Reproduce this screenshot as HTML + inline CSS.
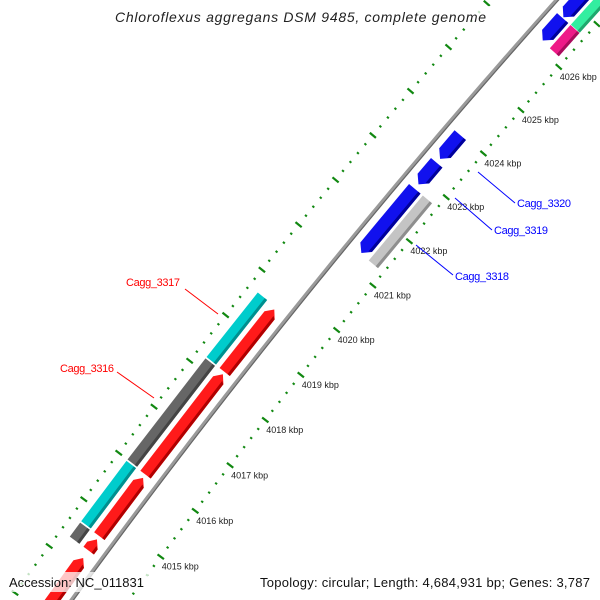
<!DOCTYPE html>
<html><head><meta charset="utf-8"><style>
html,body{margin:0;padding:0;background:#fff;width:600px;height:600px;overflow:hidden;}
svg{display:block;overflow:hidden;}
</style></head><body>
<svg id="map" width="600" height="600" viewBox="0 0 600 600" xmlns="http://www.w3.org/2000/svg" font-family="Liberation Sans, DejaVu Sans, sans-serif">
<rect x="0" y="0" width="600" height="600" fill="#fff"/>
<g id="ticks"></g>
<g id="backbone"></g>
<g id="genes"></g>
<g id="ticklabels"></g>
<g font-size="11">
  <line x1="185" y1="289" x2="218" y2="314" stroke="#f00" stroke-width="1"/>
  <text x="126" y="286" fill="#f00" textLength="54">Cagg_3317</text>
  <line x1="117" y1="372" x2="154" y2="398" stroke="#f00" stroke-width="1"/>
  <text x="60" y="372" fill="#f00" textLength="54">Cagg_3316</text>
  <line x1="416" y1="245" x2="453" y2="275" stroke="#00f" stroke-width="1"/>
  <text x="455" y="280" fill="#00f" textLength="54">Cagg_3318</text>
  <line x1="455" y1="198" x2="492" y2="230" stroke="#00f" stroke-width="1"/>
  <text x="494" y="234" fill="#00f" textLength="54">Cagg_3319</text>
  <line x1="478" y1="172" x2="515" y2="203" stroke="#00f" stroke-width="1"/>
  <text x="517" y="207" fill="#00f" textLength="54">Cagg_3320</text>
</g>
<g>
  <rect x="112" y="6" width="378" height="20" fill="#fff" fill-opacity="0.75"/>
  <text x="115" y="22" font-size="14" font-style="italic" fill="#222" textLength="371">Chloroflexus aggregans DSM 9485, complete genome</text>
</g>
<g>
  <rect x="6" y="572" width="142" height="20" fill="#fff" fill-opacity="0.75"/>
  <text x="9" y="587" font-size="13" fill="#111" textLength="135">Accession: NC_011831</text>
  <rect x="257" y="572" width="337" height="20" fill="#fff" fill-opacity="0.75"/>
  <text x="260" y="587" font-size="13" fill="#111" textLength="330">Topology: circular; Length: 4,684,931 bp; Genes: 3,787</text>
</g>
</svg>
<script>
// ---- data ----
const tickLabelKbp = [4015,4016,4017,4018,4019,4020,4021,4022,4023,4024,4025,4026];
const geneStart = [4018.22,4015.98,4014.65,4014.34,4012.0, 4018.23,4016.0,4014.67,4014.34, 4021.31,4022.86,4023.44,4021.29, 4026.16,4026.70,4026.14,4026.69];
const geneEnd   = [4019.60,4018.17,4015.91,4014.58,4014.18, 4019.65,4018.20,4015.97,4014.64, 4022.76,4023.35,4023.98,4022.76, 4026.68,4028.6,4026.68,4028.6];
const geneLane  = ['fwd','fwd','fwd','fwd','fwd', 'fcog','fcog','fcog','fcog', 'rev','rev','rev','rcog', 'rev','rev','rcog','rcog'];
const geneKind  = ['red','red','red','red','red', 'cyan','dgrey','cyan','dgrey', 'blue','blue','blue','lgrey', 'blue','blue','pink','green'];
const geneId    = ['cagg-3317','cagg-3316','gene-3315','gene-3314','gene-3313','cog-3317','cog-3316','cog-3315','cog-3314','cagg-3318','cagg-3319','cagg-3320','cog-3318','gene-3321','gene-3322','cog-3321','cog-3322'];

// ---- axis functions ----
const CX = 6340, CY = 5171, R0 = 7758;
const A0 = -143.25, DEG_PER_KBP = 0.4264;
function pt(kbp, dr){
  const a = (A0 + (kbp-4015)*DEG_PER_KBP) * Math.PI/180;
  const r = R0 + dr;
  return [CX + r*Math.cos(a), CY + r*Math.sin(a)];
}
const LANES = {fwd:[9,22], fcog:[27,39], rev:[-24,-9], rcog:[-39,-27]};
const FILL = {red:['#ff1a1a','#b00000'], cyan:['#00cccc','#008f8f'], dgrey:['#666666','#444444'], blue:['#1111ee','#00009a'], lgrey:['#c4c4c4','#8e8e8e'], pink:['#ee1a88','#a80c5c'], green:['#33eea0','#1fa86e']};
const NS = 'http://www.w3.org/2000/svg';
function P(p){return p[0].toFixed(2)+','+p[1].toFixed(2);}

// ---- backbone ----
const bb = document.getElementById('backbone');
function arcPts(k0,k1,dr){const a=[];for(let k=k0;k<=k1+1e-9;k+=0.1)a.push(P(pt(k,dr)));return a.join(' ');}
const bl = document.createElementNS(NS,'polyline');


bl.setAttribute('points',arcPts(4013.2,4028.6,0));
bl.setAttribute('fill','none');bl.setAttribute('stroke','#9a9a9a');bl.setAttribute('stroke-width','4');
bb.appendChild(bl);
const bl2 = document.createElementNS(NS,'polyline');


bl2.setAttribute('points',arcPts(4013.2,4028.6,-1.5));
bl2.setAttribute('fill','none');bl2.setAttribute('stroke','#666');bl2.setAttribute('stroke-width','1.2');
bb.appendChild(bl2);

// ---- ticks ----
const tg = document.getElementById('ticks');
[-46, 50].forEach(function(ring){
  for(let i=0;i<=90;i++){
    const k = 4011 + i*0.2;
    const major = (i%5===0);
    const h = major?4:1.2;
    const a=pt(k,ring-h), b=pt(k,ring+h);
    if(Math.min(a[1],b[1])>600||Math.max(a[1],b[1])<0||Math.min(a[0],b[0])>600||Math.max(a[0],b[0])<0) continue;
    const l = document.createElementNS(NS,'line');
    
    
    l.setAttribute('x1',a[0]);l.setAttribute('y1',a[1]);l.setAttribute('x2',b[0]);l.setAttribute('y2',b[1]);
    l.setAttribute('stroke','#118811');l.setAttribute('stroke-width',major?'2.2':'2');
    tg.appendChild(l);
  }
});
const tl = document.getElementById('ticklabels');
tickLabelKbp.forEach(function(k){
  const p = pt(k,-46);
  const t = document.createElementNS(NS,'text');
  
  
  t.setAttribute('x',p[0]+1);t.setAttribute('y',p[1]+13);
  t.setAttribute('font-size','9');t.setAttribute('fill','#222');
  t.textContent = k+' kbp';
  tl.appendChild(t);
});

// ---- genes ----
const gg = document.getElementById('genes');
const HEAD = 0.13;
geneStart.forEach(function(s,i){
  const e = geneEnd[i], lane = LANES[geneLane[i]], c = FILL[geneKind[i]];
  const lo=lane[0], hi=lane[1], mid=(lo+hi)/2;
  let pts;
  if(geneLane[i]==='fwd'){
    const hb = Math.max(s, e-HEAD);
    pts=[pt(s,lo),pt(hb,lo),pt(e,mid),pt(hb,hi),pt(s,hi)];
  } else if(geneLane[i]==='rev'){
    const hb = Math.min(e, s+HEAD);
    pts=[pt(e,lo),pt(hb,lo),pt(s,mid),pt(hb,hi),pt(e,hi)];
  } else {
    pts=[pt(s,lo),pt(e,lo),pt(e,hi),pt(s,hi)];
  }
  const g = document.createElementNS(NS,'polygon');
  
  
  g.setAttribute('points',pts.map(P).join(' '));
  g.setAttribute('fill',c[0]);
  gg.appendChild(g);
  let sp;
  if(geneLane[i]==='fwd'){ const hb=Math.max(s,e-HEAD); sp=[pt(s,lo),pt(hb,lo),pt(hb+(e-hb)*0.25,lo+3),pt(s,lo+3)]; }
  else if(geneLane[i]==='rev'){ const hb=Math.min(e,s+HEAD); sp=[pt(e,lo),pt(hb,lo),pt(hb-(hb-s)*0.25,lo+3),pt(e,lo+3)]; }
  else { sp=[pt(s,lo),pt(e,lo),pt(e,lo+3),pt(s,lo+3)]; }
  const d = document.createElementNS(NS,'polygon');
  
  
  d.setAttribute('points',sp.map(P).join(' '));
  d.setAttribute('fill',c[1]);
  gg.appendChild(d);
});
</script>
</body></html>
